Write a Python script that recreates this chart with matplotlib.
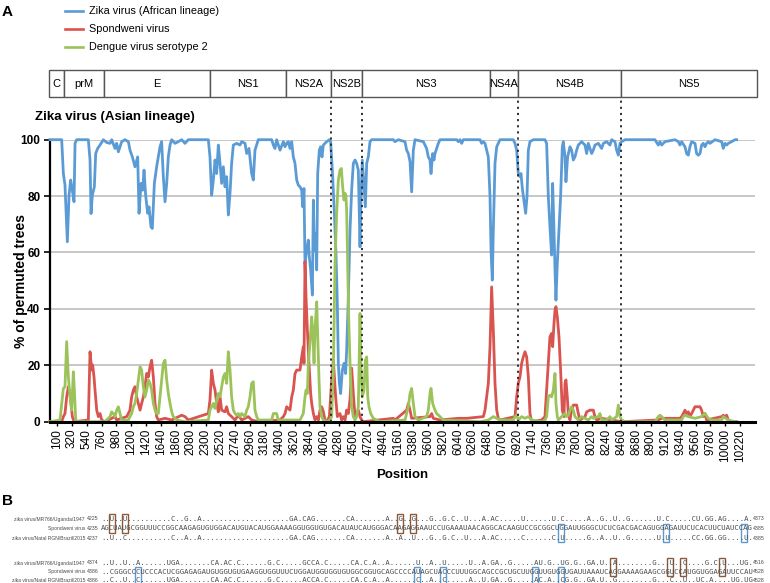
import matplotlib
matplotlib.use("Agg")
import matplotlib.pyplot as plt
from matplotlib.lines import Line2D
from matplotlib.patches import Rectangle
import matplotlib.transforms as mtransforms

plt.rcParams['font.family'] = ['Liberation Sans', 'DejaVu Sans']

# ---------------- data ----------------
series_names = ["Zika virus (African lineage)", "Spondweni virus", "Dengue virus serotype 2"]
series_colors = ["#5B9BD5", "#D9534F", "#9BC35A"]

blue_points = [(-4,100),(169,100),(194,88),(218,83.9),(253,63.8),(278,80.3),(302,85.7),(327,82.1),(352,78),(367,98.7),(391,100),(564,100),(589,92.8),(604,73.8),(623,80.3),(653,83.3),(673,95.1),(702,96.9),(737,98.1),(786,100),(836,99),(885,98.7),(910,100),(959,96.9),(984,98.7),(1009,95.7),(1058,99.3),(1107,100),(1157,99.3),(1181,96.3),(1216,93.9),(1255,90.4),(1295,93.9),(1315,73.9),(1344,84.5),(1369,82.1),(1389,89.2),(1413,80.3),(1443,73.9),(1463,76.2),(1492,69.1),(1512,68.5),(1542,84.5),(1576,90.4),(1601,93.9),(1626,97.5),(1650,99.3),(1675,86.9),(1700,78),(1725,84.5),(1749,93.9),(1774,98.1),(1799,100),(1848,98.7),(1897,99.3),(1947,100),(1996,98.7),(2046,100),(2342,100),(2366,93.9),(2391,80.3),(2416,85.7),(2441,92.8),(2465,88),(2490,98.1),(2515,91.6),(2539,84.5),(2564,90.4),(2589,83.3),(2613,86.9),(2638,73.3),(2663,81),(2687,91.6),(2712,98.1),(2762,98.7),(2811,98.1),(2836,99.3),(2885,98.7),(2910,95.1),(2944,96.9),(2984,88),(3008,85.7),(3033,96.3),(3082,100),(3280,100),(3305,98.1),(3329,96.9),(3354,100),
    (3404,96.3),(3453,99.3),(3478,97.5),(3502,98.7),(3527,99.3),(3552,96.9),(3577,99.3),(3601,93.9),(3626,91.6),(3651,85.7),(3675,83.9),(3700,83.3),(3725,82.1),(3740,76.2),(3759,82.7),(3774,56.1),(3799,60.8),(3823,64.4),(3838,58.5),(3858,53.8),(3883,44.9),(3898,78.6),(3912,60.8),(3932,66.8),(3947,53.8),(3962,88),(3986,96.3),(4006,97.5),(4026,93.9),(4046,98.1),(4070,98.7),(4095,99.3),(4135,100),(4154,99.3),(4184,86.9),(4209,73.9),(4233,59.7),(4253,41.9),(4268,20.7),(4283,13.6),(4302,10),(4327,18.3),(4352,20.7),(4376,17.1),(4391,25.4),(4416,44.3),(4441,67.9),(4465,82.1),(4490,91.6),(4515,92.8),(4539,91.6),(4564,89.2),(4589,62),(4604,79.8),(4623,92.8),(4648,83.3),(4668,76.2),(4688,91.6),(4712,93.9),(4737,99.3),(4762,100),(5083,100),(5107,99.3),(5157,100),(5255,99.3),(5280,96.3),(5305,95.1),(5330,92.2),(5354,81.5),(5379,96.3),(5404,100),(5527,99.3),(5576,96.9),(5601,93.9),(5626,92.8),(5641,88),(5665,95.1),(5685,92.8),(5700,95.1),(5724,96.9),(5749,98.7),(5774,100),(6021,100),(6046,99.3),(6070,100),(6095,98.7),(6120,100),(6367,100),(6391,98.7),(6416,99.3),(6441,98.7),(6465,96.3),(6490,93.9),(6515,79.8),(6530,60.8),(6549,50.2),(6564,67.9),(6589,91.6),(6614,97.5),(6638,98.7),(6663,100),(6860,100),
    (6885,98.7),(6910,96.3),(6934,88),(6959,86.9),(6974,88),(6994,82.7),(7023,77.4),(7043,73.9),(7063,79.8),(7083,96.3),(7107,99.3),(7157,100),(7329,100),(7354,98.7),(7379,79.8),(7403,69.1),(7428,59.1),(7443,84.5),(7463,67.9),(7478,53.8),(7492,43.1),(7512,56.1),(7537,67.9),(7561,79.8),(7586,97.5),(7601,99.3),(7626,93.9),(7640,85.1),(7665,93.9),(7700,97.5),(7724,96.3),(7749,92.8),(7774,93.9),(7799,96.3),(7823,98.1),(7848,98.7),(7873,99.3),(7922,98.1),(7947,95.1),(7971,98.7),(7996,96.9),(8021,95.1),(8045,96.3),(8070,98.1),(8120,98.7),(8169,96.9),(8194,98.7),(8243,99.3),(8292,98.1),(8317,100),(8366,99.3),(8391,96.3),(8416,94.5),(8441,98.7),(8465,99.3),(8515,100),(8959,100),(9008,98.1),(9033,99.3),(9058,98.1),(9107,99.3),(9255,100),(9305,99.3),(9329,98.1),(9354,99.3),(9403,97.5),(9428,95.1),(9453,94.5),(9477,97.5),(9502,99.3),(9552,98.7),(9576,95.1),(9601,94.5),(9626,95.1),(9650,98.1),(9675,98.7),(9700,97.5),(9724,98.7),(9749,99.3),(9774,98.7),(9848,100),(9947,99.3),(9971,96.9),(9996,98.7),(10021,98.1),(10045,98.7),(10095,99.3),(10144,100),(10169,100)]

red_points = [(-4,0),(169,0),(194,1.8),(218,2.9),(243,8.8),(268,12.4),(293,10.0),(307,6.5),(327,1.8),(352,0),(564,0.6),(589,24.8),(614,18.3),(628,20.1),(648,15.9),(663,11.2),(688,4.1),(712,1.8),(737,2.9),(762,0.6),(811,0),(959,1.8),(984,0.6),(1058,1.2),(1132,1.8),(1181,4.1),(1206,8.8),(1231,11.2),(1255,12.4),(1280,8.8),(1305,6.5),(1330,4.1),(1354,6.5),(1379,8.8),(1403,12.4),(1428,17.1),(1453,15.9),(1478,19.5),(1502,21.8),(1527,15.9),(1552,6.5),(1576,1.8),(1601,0.6),(1700,1.2),(1799,0.6),(1947,2.3),(1996,1.8),(2046,0.6),(2342,2.9),(2366,7.7),(2391,18.3),(2416,13.6),(2441,11.2),(2465,6.5),(2490,3.5),(2515,8.8),(2539,4.1),(2589,3.5),(2613,5.3),(2638,2.9),(2687,1.8),(2737,0.6),(2786,2.3),(2836,0.6),(2885,1.2),(2934,1.8),(2984,0.6),(3082,0),
    (3404,0.6),(3453,1.8),(3478,2.9),(3502,5.3),(3552,4.1),(3577,8.8),(3601,11.2),(3626,17.1),(3651,18.3),(3700,18.3),(3725,23.0),(3749,26.6),(3759,20.7),(3774,56.7),(3789,44.3),(3809,32.5),(3833,20.7),(3858,10.0),(3873,6.5),(3898,2.9),(3922,0.6),(3947,1.8),(3972,0.6),(3996,4.1),(4021,5.3),(4046,3.5),(4070,0.6),(4095,0),(4135,1.8),(4154,8.8),(4169,14.8),(4194,21.8),(4209,15.9),(4228,8.8),(4253,1.8),(4292,2.9),(4317,0.6),(4342,1.8),(4367,0.6),(4391,4.1),(4416,2.9),(4441,8),(4465,19),(4490,10),(4515,1.8),(4539,2.9),(4564,4.1),(4589,1.8),(4613,0.6),(4638,0),(5083,1.2),(5107,0.6),(5280,4.1),(5305,6.5),(5330,4.1),(5354,1.2),(5626,1.8),(5650,2.9),(5675,1.2),(5774,0.6),(6046,1.2),(6169,1.2),(6416,1.8),(6441,4.1),(6465,8.8),(6490,13.6),(6515,26.6),(6539,47.8),(6564,32.5),(6589,13.6),(6614,4.1),(6638,1.2),(6663,0.6),
    (6885,1.8),(6910,8.8),(6934,13.6),(6959,15.9),(6984,20.7),(7008,23.0),(7033,24.8),(7058,23.0),(7083,15.9),(7107,2.9),(7132,0),(7280,0.6),(7329,1.8),(7379,20.7),(7403,30.1),(7428,31.3),(7443,26.6),(7463,34.8),(7478,39.6),(7492,40.8),(7512,37.2),(7537,30.1),(7561,18.3),(7586,4.1),(7611,1.8),(7626,13.6),(7640,14.8),(7660,8.8),(7675,2.9),(7700,0.6),(7724,4.1),(7749,5.9),(7799,5.9),(7823,2.9),(7848,0.6),(7922,1.8),(7947,3.5),(7996,4.1),(8045,4.1),(8070,1.8),(8095,0.6),(8169,1.2),(8317,0.6),(8465,0),(9008,0.6),(9058,1.2),(9329,1.2),(9354,1.8),(9379,2.9),(9403,4.1),(9428,2.9),(9453,3.5),(9477,1.8),(9502,2.9),(9552,5.3),(9626,5.3),(9650,4.1),(9675,1.8),(9700,2.9),(9724,0.6),(9947,1.8),(9971,2.3),(9996,1.8),(10021,2.3),(10045,0.6),(10095,0),(10169,0)]

green_points = [(-4,0),(144,0.6),(194,11.8),(218,12.4),(243,28.4),(268,15.9),(293,8.8),(317,4.1),(342,17.7),(357,11.2),(377,0.6),(416,0),(811,0),(885,1.8),(910,3.5),(935,2.9),(959,1.8),(984,4.1),(1009,5.3),(1033,2.9),(1058,0.6),(1157,0.6),(1181,1.8),(1206,2.9),(1231,5.3),(1255,6.5),(1280,10.0),(1305,14.8),(1330,19.5),(1354,18.3),(1379,12.4),(1403,8.8),(1428,11.2),(1453,14.8),(1478,13.6),(1502,11.2),(1527,6.5),(1552,4.1),(1576,2.9),(1601,2.9),(1626,8.8),(1650,14.8),(1675,20.7),(1700,21.8),(1725,14.8),(1749,10.0),(1774,6.5),(1799,3.5),(1823,1.8),(1873,0.6),(1996,0),(2342,0.6),(2366,4.1),(2391,5.3),(2416,6.5),(2441,4.7),(2465,7.7),(2490,10.0),(2515,8.8),(2539,12.4),(2564,15.9),(2589,17.1),(2613,13.6),(2638,24.8),(2663,18.3),(2687,8.8),(2712,4.1),(2737,2.9),(2762,2.3),(2786,2.9),(2811,1.8),(2836,2.9),(2885,1.8),(2910,4.1),(2934,5.3),(2959,8.8),(2984,13.6),(3008,14.2),(3033,4.1),(3058,1.8),(3082,0.6),(3280,0.6),(3305,2.9),(3329,2.9),(3354,2.9),(3379,0.6),
    (3453,0.6),(3700,0.6),(3725,1.8),(3749,2.9),(3774,8.8),(3789,11.2),(3809,10.0),(3823,20.7),(3848,27.8),(3873,37.2),(3888,32.5),(3908,20.7),(3922,32.5),(3947,42.5),(3962,30.1),(3982,14.8),(3996,5.3),(4021,1.8),(4046,0.6),(4095,0),(4144,0.6),(4169,1.8),(4194,18.3),(4219,56.1),(4243,73.9),(4268,85.7),(4292,89.2),(4312,89.8),(4332,83.3),(4352,78.6),(4367,81),(4381,79.8),(4391,75.0),(4406,56.1),(4421,37.2),(4441,20.7),(4465,5.3),(4490,1.8),(4515,0.6),(4539,1.8),(4564,5.3),(4589,38.4),(4604,18.3),(4623,8.8),(4648,11.2),(4668,21.8),(4688,23.0),(4703,8.8),(4722,5.3),(4747,2.9),(4786,1.2),(4836,0.6),(4885,0),(5255,0.6),(5280,2.9),(5305,5.3),(5330,10.0),(5354,11.8),(5379,6.5),(5404,1.8),(5453,0.6),(5576,1.8),(5601,4.1),(5626,10.0),(5641,11.8),(5665,6.5),(5700,4.1),(5724,2.9),(5774,1.8),(5823,0.6),(6367,0),(6490,0.6),(6564,1.8),(6614,1.2),(6663,0.6),(6860,0.6),
    (6885,1.8),(6910,2.3),(6934,0.6),(6984,1.8),(7033,1.2),(7083,1.8),(7132,0.6),(7280,0),(7329,0.6),(7354,1.8),(7379,8.8),(7403,9.4),(7428,8.8),(7453,11.2),(7478,17.1),(7492,6.5),(7512,1.8),(7526,0.6),(7576,1.8),(7626,2.9),(7650,1.8),(7675,2.3),(7700,4.1),(7724,5.3),(7749,4.1),(7774,1.8),(7823,0.6),(7873,1.8),(7922,1.2),(7971,0.6),(8021,1.8),(8045,1.2),(8120,1.8),(8144,2.9),(8169,0.6),(8243,0.6),(8292,1.8),(8317,0.6),(8391,1.8),(8416,5.9),(8441,1.8),(8465,0.6),(8515,0),(8959,0),(9008,1.8),(9033,2.3),(9058,1.8),(9107,0.6),(9354,0.6),(9379,1.8),(9403,2.3),(9453,1.8),(9552,1.2),(9650,1.8),(9700,2.9),(9749,1.2),(9798,0.6),(9947,0.6),(9971,1.8),(10045,0.6),(10144,0),(10169,0)]

x_tick_values = list(range(100, 10221, 220))
y_tick_values = [0, 20, 40, 60, 80, 100]

genes = ["C", "prM", "E", "NS1", "NS2A", "NS2B", "NS3", "NS4A", "NS4B", "NS5"]
gene_edges = [-20, 200, 800, 2370, 3490, 4160, 4620, 6510, 6930, 8450, 10470]
boundary_lines = [4160, 4620, 6930, 8450]

# panel B alignment
SEQ_LEN = 149
row_labels = ["zika virus/MR766/Uganda/1947", "Spondweni virus", "zika virus/Natal RGN/Brazil/2015"]
block1_start = [4225, 4235, 4237]
block1_end = [4373, 4385, 4385]
block2_start = [4374, 4386, 4386]
block2_end = [4516, 4528, 4528]
uganda_r1 = [(2,'U'),(5,'U'),(16,'C'),(19,'G'),(22,'A'),(43,'GA.CAG'),(56,'CA'),(65,'A'),(68,'G'),(71,'G'),(75,'G'),(78,'G.C'),(83,'U'),(87,'A.AC'),(96,'U'),(103,'U'),(105,'C'),(111,'A'),(114,'G'),(117,'U'),(120,'G'),(127,'U'),(129,'C'),(135,'CU.GG.AG'),(147,'A')]
spond_r1 = "AGCUAUGCGGUUUCCGGCAAGAGUGUGGACAUGUACAUGGAAAAGGUGGUGUGACAUAUCAUGGGACAAGAGGAAUCCUGAAAUAACAGGCACAAGUCCGCGGCUGGAUUGGGCUCUCGACGACAGUGGAGAUUCUCACUUCUAUCCAGGAUGA"
natal_r1 = [(2,'U'),(5,'C'),(16,'C'),(19,'A'),(22,'A'),(43,'GA.CAG'),(56,'CA'),(65,'A'),(68,'A'),(71,'U'),(75,'G'),(78,'G.C'),(83,'U'),(87,'A.AC'),(96,'C'),(103,'C'),(105,'U'),(111,'G'),(114,'A'),(117,'U'),(120,'G'),(127,'U'),(129,'U'),(135,'CC.GG.GG'),(147,'U')]
uganda_r2 = [(2,'U'),(5,'U'),(8,'A'),(15,'UGA'),(25,'CA.AC.C'),(38,'G.C'),(46,'GCCA.C'),(57,'CA.C.A'),(65,'A'),(72,'U'),(75,'A'),(78,'U'),(84,'U'),(87,'A.GA'),(93,'G'),(99,'AU'),(102,'G'),(105,'UG.G'),(111,'GA.U'),(117,'A'),(126,'G'),(130,'U'),(133,'C'),(138,'G.C'),(142,'U'),(146,'UG.')]
spond_r2 = "..CGGGCCCUCCCACUCGGAGAGAUGUGGUGUGAAGGUGGUUUCUGGAUGGUGGUGUGGCGGUGCAGCCCCAUAGCUACCCUUUGGCAGCCGCUGCUUGGUUGUGGUGAUUAAAUCAGGAAAAGAAGCGGUCCAUGGUGGAGAUUCCAUC"
natal_r2 = [(2,'C'),(5,'U'),(8,'C'),(15,'UGA'),(25,'CA.AC.C'),(38,'G.C'),(46,'ACCA.C'),(57,'CA.C.A'),(65,'A'),(72,'C'),(75,'A'),(78,'C'),(84,'A'),(87,'U.GA'),(93,'G'),(99,'AC'),(102,'A'),(105,'CG.G'),(111,'GA.U'),(117,'G'),(126,'G'),(130,'C'),(133,'U'),(136,'UC.A'),(144,'UG.G'),(147,'UG')]
block1_brown = [2, 5, 68, 71]
block1_blue = [105, 129, 147]
block2_blue = [8, 72, 78, 99, 105]
block2_brown = [117, 130, 133, 142]

# ---------------- figure ----------------
W, H = 770, 583
fig = plt.figure(figsize=(W / 100, H / 100), dpi=100)

# overlay axes in pixel coordinates for annotations
ov = fig.add_axes([0, 0, 1, 1])
ov.set_xlim(0, W)
ov.set_ylim(H, 0)
ov.axis("off")

ax = fig.add_axes([50 / W, 1 - 421.7 / H, 705 / W, 282 / H])
ax.patch.set_visible(False)
ax.set_xlim(-4, 10441)
ax.set_ylim(0, 100)

ax.yaxis.grid(True, color="#BDBDBD", lw=1.2)
ax.set_axisbelow(True)
for name, pts, col in zip(series_names, [blue_points, red_points, green_points], series_colors):
    xs = [p[0] for p in pts]
    ys = [p[1] for p in pts]
    ax.plot(xs, ys, color=col, lw=2.0, solid_joinstyle="round", zorder=3, clip_on=False)

for spine in ["top", "right"]:
    ax.spines[spine].set_visible(False)
ax.spines["left"].set_linewidth(1.6)
ax.spines["bottom"].set_linewidth(2.2)
ax.spines["bottom"].set_zorder(4)

ax.set_xticks(x_tick_values)
ax.set_xticklabels([str(v) for v in x_tick_values], rotation=90, fontsize=8.5)
ax.set_yticks(y_tick_values)
ax.set_yticklabels([str(v) for v in y_tick_values], fontsize=8.5, fontweight="bold")
ax.tick_params(axis="x", direction="out", length=3, width=1, pad=2)
ax.tick_params(axis="y", direction="out", length=4, width=1.2, pad=3)

for b in boundary_lines:
    ax.plot([b, b], [0, 114], ls=(0, (1.2, 2.2)), color="#222222", lw=1.3, clip_on=False, zorder=5)

# gene bar (x in data, y in pixels)
trans = mtransforms.blended_transform_factory(ax.transData, ov.transData)
for g, x0, x1 in zip(genes, gene_edges[:-1], gene_edges[1:]):
    ov.add_patch(Rectangle((x0, 70), x1 - x0, 27, transform=trans, facecolor="white",
                           edgecolor="#555555", lw=1, clip_on=False))
    ov.text((x0 + x1) / 2, 84, g, transform=trans, ha="center", va="center", fontsize=8)

# texts
ov.text(35, 117, "Zika virus (Asian lineage)", fontsize=9.5, fontweight="bold", va="center", ha="left")
ov.text(21, 280.7, "% of permuted trees", fontsize=10, fontweight="bold", rotation=90, ha="center", va="center")
ov.text(402, 475, "Position", fontsize=9.5, fontweight="bold", ha="center", va="center")
ov.text(2, 12, "A", fontsize=11, fontweight="bold", ha="left", va="center")
ov.text(2, 501, "B", fontsize=11, fontweight="bold", ha="left", va="center")

# legend
for i, (name, col) in enumerate(zip(series_names, series_colors)):
    y = 11 + 18 * i
    ov.add_line(Line2D([65, 83], [y, y], color=col, lw=1.9))
    ov.text(89, y, name, fontsize=7.8, ha="left", va="center")

# panel B
def build(diffs):
    s = ["."] * SEQ_LEN
    for i, t in diffs:
        for j, c in enumerate(t):
            if i + j < SEQ_LEN:
                s[i + j] = c
    return "".join(s)

char_w = 4.36
seq_x0 = 101
blocks = [
    ([build(uganda_r1), spond_r1.ljust(SEQ_LEN, ".")[:SEQ_LEN], build(natal_r1)], block1_start, block1_end, [519, 528.5, 538], block1_brown, block1_blue),
    ([build(uganda_r2), spond_r2.ljust(SEQ_LEN, ".")[:SEQ_LEN], build(natal_r2)], block2_start, block2_end, [563, 571.5, 580], block2_brown, block2_blue),
]
tcol = "#4a4a4a"
for seqs, starts, ends, ys, brown, blue in blocks:
    for lab, seq, st, en, y in zip(row_labels, seqs, starts, ends, ys):
        ov.text(85, y, lab, fontsize=3.6, ha="right", va="center", color=tcol)
        ov.text(87, y, str(st), fontsize=3.8, ha="left", va="center", color=tcol)
        ov.text(seq_x0, y, seq, fontsize=5.2, family="DejaVu Sans Mono", ha="left", va="center", color=tcol)
        ov.text(seq_x0 + SEQ_LEN * char_w + 2, y, str(en), fontsize=3.8, ha="left", va="center", color=tcol)
    for idx in brown:
        cx = seq_x0 + (idx + 0.5) * char_w
        ov.add_patch(Rectangle((cx - 3, ys[0] - 5.5), 6, ys[1] - ys[0] + 10, facecolor="none",
                               edgecolor="#8B5A3C", lw=1.0))
    for idx in blue:
        cx = seq_x0 + (idx + 0.5) * char_w
        ov.add_patch(Rectangle((cx - 3, ys[1] - 5), 6, ys[2] - ys[1] + 9, facecolor="none",
                               edgecolor="#5B9BD5", lw=1.0, clip_on=False))

fig.savefig("out.png", dpi=100)
